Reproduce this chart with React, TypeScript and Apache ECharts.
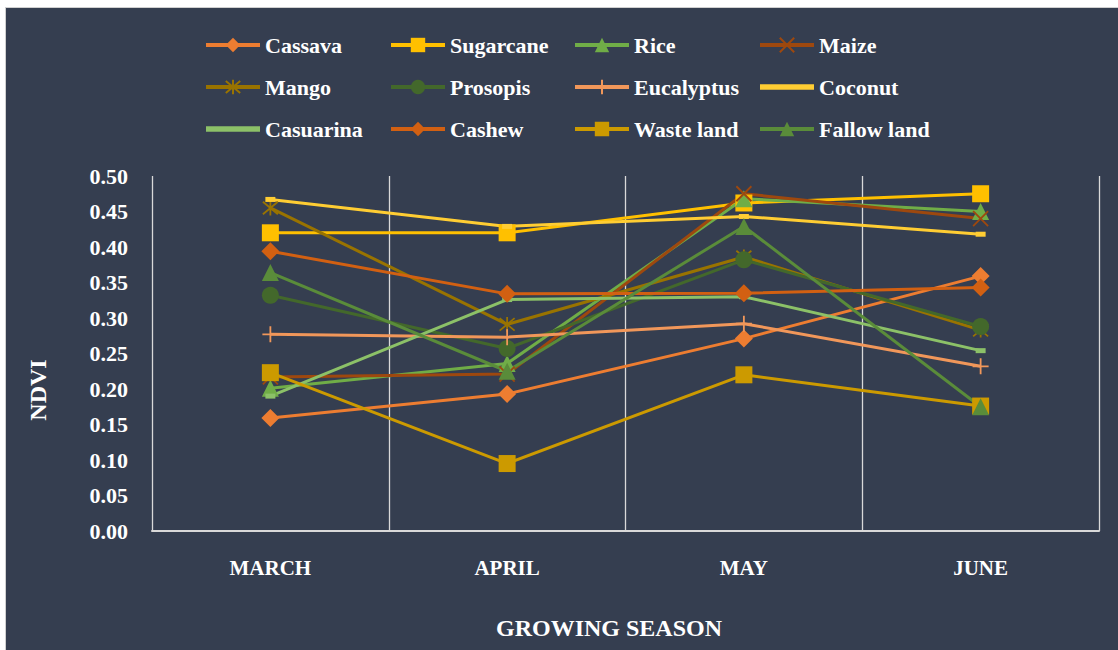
import React, { useEffect, useRef } from "react";
import * as echarts from "echarts";

const months = ["MARCH", "APRIL", "MAY", "JUNE"];
const yTicks = [0, 0.05, 0.1, 0.15, 0.2, 0.25, 0.3, 0.35, 0.4, 0.45, 0.5];

const cassava = [0.159, 0.193, 0.271, 0.359];
const sugarcane = [0.42, 0.42, 0.462, 0.475];
const rice = [0.201, 0.236, 0.468, 0.45];
const maize = [0.217, 0.221, 0.475, 0.44];
const mango = [0.455, 0.291, 0.386, 0.283];
const prosopis = [0.332, 0.257, 0.382, 0.288];
const eucalyptus = [0.277, 0.273, 0.292, 0.232];
const coconut = [0.467, 0.429, 0.443, 0.418];
const casuarina = [0.19, 0.326, 0.33, 0.254];
const cashew = [0.394, 0.334, 0.335, 0.343];
const wasteLand = [0.223, 0.095, 0.22, 0.176];
const fallowLand = [0.364, 0.225, 0.429, 0.175];

const X_PATH = "path://M0,0L10,10M10,0L0,10";
const STAR_PATH = "path://M0,0L10,10M10,0L0,10M5,-1L5,11";
const PLUS_PATH = "path://M5,0L5,10M0,5L10,5";
const BAR_PATH = "path://M0,0L10,0L10,1L0,1Z";

type S = {
  name: string;
  data: number[];
  color: string;
  symbol: string;
  size: number | number[];
  stroke?: boolean;
  dash?: boolean;
};

const seriesDefs: S[] = [
  { name: "Cassava", data: cassava, color: "#ED7D31", symbol: "diamond", size: 18 },
  { name: "Sugarcane", data: sugarcane, color: "#FFC000", symbol: "rect", size: 17 },
  { name: "Rice", data: rice, color: "#70AD47", symbol: "triangle", size: 17 },
  { name: "Maize", data: maize, color: "#9E480E", symbol: X_PATH, size: 15, stroke: true },
  { name: "Mango", data: mango, color: "#997300", symbol: STAR_PATH, size: 15, stroke: true },
  { name: "Prosopis", data: prosopis, color: "#43682B", symbol: "circle", size: 17 },
  { name: "Eucalyptus", data: eucalyptus, color: "#F1975A", symbol: PLUS_PATH, size: 16, stroke: true },
  { name: "Coconut", data: coconut, color: "#FFCD33", symbol: "rect", size: [10, 5], dash: true },
  { name: "Casuarina", data: casuarina, color: "#8CC168", symbol: "rect", size: [10, 5], dash: true },
  { name: "Cashew", data: cashew, color: "#D26012", symbol: "diamond", size: 18 },
  { name: "Waste land", data: wasteLand, color: "#CC9A00", symbol: "rect", size: 17 },
  { name: "Fallow land", data: fallowLand, color: "#5A8C3A", symbol: "triangle", size: 17 },
];

const legendCols = [
  ["Cassava", "Mango", "Casuarina"],
  ["Sugarcane", "Prosopis", "Cashew"],
  ["Rice", "Eucalyptus", "Waste land"],
  ["Maize", "Coconut", "Fallow land"],
];
const legendLefts = [204, 389, 573, 758];

const FONT = "'Liberation Serif', 'Times New Roman', serif";

export default function App() {
  const ref = useRef<HTMLDivElement>(null);
  useEffect(() => {
    if (!ref.current) return;
    const chart = echarts.init(ref.current, null, { renderer: "svg" });
    const option: any = {
      animation: false,
      backgroundColor: "transparent",
      graphic: [
        {
          type: "rect",
          z: -10,
          shape: { x: 5.5, y: 7.5, width: 1130, height: 660 },
          style: { fill: "#353E50", stroke: "#D0D0D0", lineWidth: 1 },
        },
        {
          type: "text",
          z: 10,
          x: 38,
          y: 390,
          rotation: Math.PI / 2,
          style: {
            text: "NDVI",
            fill: "#FFFFFF",
            font: `bold 24px ${FONT}`,
            align: "center",
            verticalAlign: "middle",
          },
        },
        {
          type: "text",
          z: 10,
          x: 609,
          y: 628,
          style: {
            text: "GROWING SEASON",
            fill: "#FFFFFF",
            font: `bold 24px ${FONT}`,
            align: "center",
            verticalAlign: "middle",
          },
        },
      ],
      legend: legendCols.map((col, i) => ({
        orient: "vertical",
        left: legendLefts[i],
        top: 33,
        data: col.map((n) => {
          const d = seriesDefs.find((s) => s.name === n)!;
          return d.dash ? { name: n, icon: BAR_PATH } : { name: n };
        }),
        itemWidth: 54,
        itemHeight: 18,
        itemGap: 18,
        padding: 0,
        selectedMode: false,
        lineStyle: { width: 4 },
        textStyle: {
          color: "#FFFFFF",
          fontFamily: FONT,
          fontWeight: "bold",
          fontSize: 22,
          lineHeight: 24,
        },
      })),
      grid: { left: 152, right: 19, top: 176, bottom: 119 },
      xAxis: {
        type: "category",
        data: months,
        boundaryGap: true,
        axisLine: { show: true, lineStyle: { color: "#D9D9D9", width: 2 } },
        axisTick: { show: false },
        splitLine: { show: true, interval: 0, lineStyle: { color: "#D9D9D9", width: 1.3 } },
        axisLabel: {
          color: "#FFFFFF",
          fontFamily: FONT,
          fontWeight: "bold",
          fontSize: 21,
          margin: 26,
        },
      },
      yAxis: {
        type: "value",
        min: yTicks[0],
        max: yTicks[yTicks.length - 1],
        interval: 0.05,
        axisLine: { show: false },
        axisTick: { show: false },
        splitLine: { show: false },
        axisLabel: {
          color: "#FFFFFF",
          fontFamily: FONT,
          fontWeight: "bold",
          fontSize: 22,
          margin: 24,
          formatter: (v: number) => v.toFixed(2),
        },
      },
      series: seriesDefs.map((s) => ({
        name: s.name,
        type: "line",
        data: s.data,
        symbol: s.symbol,
        symbolSize: s.size,
        showAllSymbol: true,
        lineStyle: { color: s.color, width: 3 },
        itemStyle: {
          color: s.color,
          borderColor: s.color,
          borderWidth: s.stroke ? 1.8 : 0,
          opacity: 1,
        },
        emphasis: { disabled: true },
      })),
    };
    chart.setOption(option);
    return () => chart.dispose();
  }, []);
  return (
    <div
      style={{
        position: "fixed",
        left: 0,
        top: 0,
        width: 1118,
        height: 650,
        background: "#FFFFFF",
      }}
    >
      <div ref={ref} style={{ width: 1118, height: 650 }} />
    </div>
  );
}
